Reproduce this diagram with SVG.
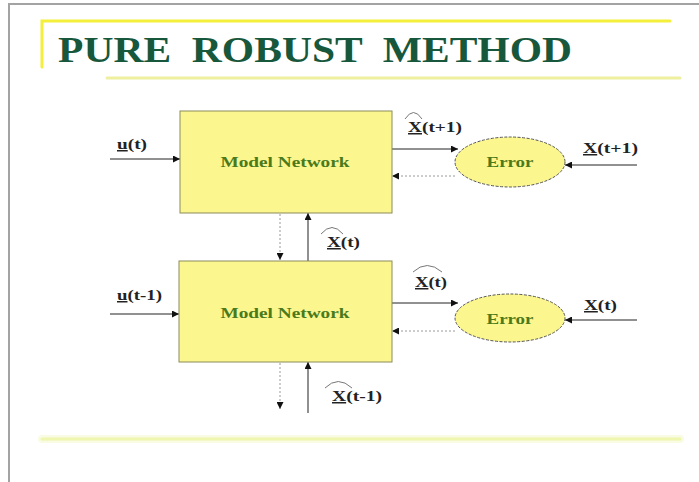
<svg xmlns="http://www.w3.org/2000/svg" width="699" height="482" viewBox="0 0 699 482">
  <style>
    .title { font-family: "Liberation Serif", "Times New Roman", serif; font-weight: bold; font-size: 35px; fill: #17573b; }
    .box { fill: #fbf68e; stroke: #8c8c5a; stroke-width: 1; }
    .err { fill: #fbf68e; stroke: #555; stroke-width: 1; stroke-dasharray: 3 1.5; }
    .node-text { font-family: "Liberation Serif", "Times New Roman", serif; font-weight: bold; font-size: 15px; fill: #4a7a1c; text-anchor: middle; }
    .lbl { font-family: "Liberation Serif", "Times New Roman", serif; font-weight: bold; font-size: 15px; fill: #222; }
    .ul { text-decoration: underline; }
    .wire { stroke: #222; stroke-width: 1; fill: none; }
    .back { stroke: #9a9a9a; stroke-width: 1; fill: none; stroke-dasharray: 2 2; }
    .hat { stroke: #777; stroke-width: 1; fill: none; }
    .rule { fill: none; stroke-linecap: round; }
  </style>
  <defs>
    <marker id="arr" viewBox="0 0 8 8" refX="8" refY="4" markerWidth="7" markerHeight="7" markerUnits="userSpaceOnUse" orient="auto">
      <path d="M0,0 L8,4 L0,8 Z" fill="#111"/>
    </marker>
  </defs>

  <rect width="699" height="482" fill="#ffffff"/>

  <!-- page frame -->
  <path d="M9,482 V4 H699" fill="none" stroke="#a3a3a3" stroke-width="2"/>

  <!-- title decoration -->
  <path class="rule" d="M42,67 V21 H670" stroke="#f4ef3a" stroke-width="3"/>
  <path class="rule" d="M107,78 H680" stroke="#eef0a0" stroke-width="3"/>
  <!-- footer rule: soft halo plus core -->
  <path class="rule" d="M42,439 H680" stroke="#f9fbe2" stroke-width="8"/>
  <path class="rule" d="M42,439 H680" stroke="#eef6b0" stroke-width="3"/>

  <text class="title" x="58" y="62" textLength="514" lengthAdjust="spacingAndGlyphs" xml:space="preserve">PURE  ROBUST  METHOD</text>

  <!-- connectors -->
  <g id="connectors">
    <line class="wire" x1="110" y1="159" x2="180" y2="159" marker-end="url(#arr)"/>
    <line class="wire" x1="392" y1="149" x2="458" y2="149" marker-end="url(#arr)"/>
    <line class="back" x1="455" y1="176" x2="392" y2="176" marker-end="url(#arr)"/>
    <line class="wire" x1="637" y1="165" x2="565" y2="165" marker-end="url(#arr)"/>

    <line class="back" x1="280" y1="214" x2="280" y2="260" marker-end="url(#arr)"/>
    <line class="wire" x1="308" y1="261" x2="308" y2="213" marker-end="url(#arr)"/>

    <line class="wire" x1="110" y1="314" x2="179" y2="314" marker-end="url(#arr)"/>
    <line class="wire" x1="392" y1="303" x2="458" y2="303" marker-end="url(#arr)"/>
    <line class="back" x1="455" y1="331" x2="392" y2="331" marker-end="url(#arr)"/>
    <line class="wire" x1="637" y1="320" x2="565" y2="320" marker-end="url(#arr)"/>

    <line class="back" x1="280" y1="363" x2="280" y2="409" marker-end="url(#arr)"/>
    <line class="wire" x1="308" y1="413" x2="308" y2="362" marker-end="url(#arr)"/>
  </g>

  <!-- nodes -->
  <g id="model-net-1">
    <rect class="box" x="180" y="111" width="212" height="102"/>
    <text class="node-text" x="285" y="167" textLength="129" lengthAdjust="spacingAndGlyphs">Model Network</text>
  </g>
  <g id="model-net-2">
    <rect class="box" x="179" y="261" width="213" height="101"/>
    <text class="node-text" x="285" y="318" textLength="129" lengthAdjust="spacingAndGlyphs">Model Network</text>
  </g>
  <g id="error-1">
    <ellipse class="err" cx="510" cy="162" rx="55" ry="25"/>
    <text class="node-text" x="510" y="167" textLength="47" lengthAdjust="spacingAndGlyphs">Error</text>
  </g>
  <g id="error-2">
    <ellipse class="err" cx="510" cy="318" rx="55" ry="24"/>
    <text class="node-text" x="510" y="324" textLength="47" lengthAdjust="spacingAndGlyphs">Error</text>
  </g>

  <!-- signal labels -->
  <g id="labels">
    <text class="lbl" x="117" y="149" textLength="30" lengthAdjust="spacingAndGlyphs"><tspan class="ul">u</tspan>(t)</text>
    <text class="lbl" x="117" y="300" textLength="45" lengthAdjust="spacingAndGlyphs"><tspan class="ul">u</tspan>(t-1)</text>

    <text class="lbl" x="408" y="132" textLength="54" lengthAdjust="spacingAndGlyphs"><tspan class="ul">X</tspan>(t+1)</text>
    <path class="hat" d="M405,119 Q413.5,106 422,119"/>

    <text class="lbl" x="583" y="153" textLength="55" lengthAdjust="spacingAndGlyphs"><tspan class="ul">X</tspan>(t+1)</text>

    <text class="lbl" x="327" y="247" textLength="33" lengthAdjust="spacingAndGlyphs"><tspan class="ul">X</tspan>(t)</text>
    <path class="hat" d="M321,234 Q332,221 343,234"/>

    <text class="lbl" x="415" y="287" textLength="32" lengthAdjust="spacingAndGlyphs"><tspan class="ul">X</tspan>(t)</text>
    <path class="hat" d="M413,272 Q427,259 442,272"/>

    <text class="lbl" x="584" y="310" textLength="33" lengthAdjust="spacingAndGlyphs"><tspan class="ul">X</tspan>(t)</text>

    <text class="lbl" x="332" y="401" textLength="50" lengthAdjust="spacingAndGlyphs"><tspan class="ul">X</tspan>(t-1)</text>
    <path class="hat" d="M325,388 Q338,375 352,388"/>
  </g>
</svg>
